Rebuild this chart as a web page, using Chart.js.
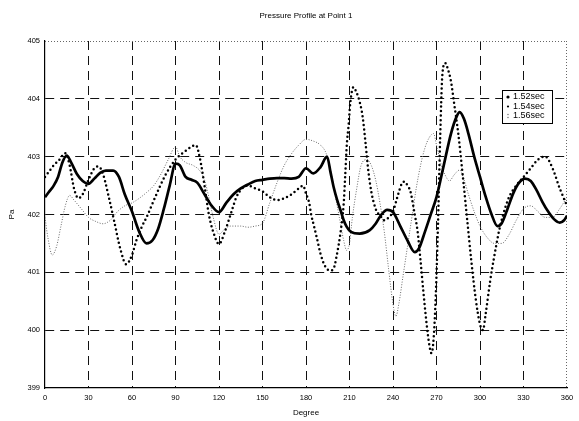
<!DOCTYPE html>
<html>
<head>
<meta charset="utf-8">
<script src="https://cdn.jsdelivr.net/npm/chart.js@4/dist/chart.umd.min.js"></script>
<style>
  html, body { margin: 0; padding: 0; background: #fff; }
  canvas { display: block; }
</style>
</head>
<body>
<canvas id="c" width="579" height="421"></canvas>
<script>
// ---- data ----
const seriesNames = ['1.52sec', '1.54sec', '1.56sec'];
const xTicks = [0, 30, 60, 90, 120, 150, 180, 210, 240, 270, 300, 330, 360];
const yTicks = [399, 400, 401, 402, 403, 404, 405];

const degA = [0,3,6,9,12,15,18,22,26,30,34,38,42,47,51,55,60,65,70,74,78,82,86,90,93,97,101,105,110,115,120,125,130,135,140,145,150,155,160,165,170,175,180,185,190,194.5,197,199,201.5,204,206,208,211,217,224,228,232,236,240,245,250,255,258,262,266,270,275,280,284,286,289,292,296,300,304,308,312,315,319,323,327,331,335,339,343,347,351,355,358,360];
const valA = [402.3,402.4,402.5,402.65,402.9,403.02,402.9,402.7,402.58,402.53,402.62,402.72,402.76,402.76,402.65,402.35,402.05,401.7,401.5,401.55,401.75,402.1,402.5,402.88,402.85,402.65,402.6,402.55,402.35,402.15,402.04,402.2,402.35,402.45,402.52,402.58,402.6,402.62,402.63,402.63,402.62,402.65,402.8,402.71,402.82,403.0,402.72,402.48,402.25,402.06,401.9,401.79,401.7,401.67,401.73,401.84,402.0,402.08,402.04,401.8,401.55,401.35,401.42,401.7,402.0,402.3,402.85,403.4,403.7,403.77,403.65,403.4,403.0,402.65,402.3,402.0,401.8,401.85,402.1,402.37,402.55,402.62,402.58,402.42,402.22,402.05,401.92,401.86,401.9,401.98];

const degB = [0,3,6,10,14,17,20,23,26,30,34,37,40,44,48,52,56,60,63,67,70,76,83,90,97,104,107,110,113,116,120,124,128,132,136,140,145,150,155,160,165,170,175,178,180,182.3,183.4,185.6,187.9,190,193.5,197,199,201.4,203.7,206,207,208.2,209.3,210.5,212.7,215,217,219,221,223,225,228,231,234,237,240,243,246,248,250,252,255,257,259,261,263,265,266.5,268,269.5,271,272.5,274,276,278,280,282,285,288,291,294,297,300,302,304,307,310,313,316,320,325,330,335,340,345,350,355,360];
const valB = [402.65,402.75,402.85,402.95,403.06,402.85,402.45,402.28,402.35,402.6,402.8,402.83,402.7,402.3,401.85,401.4,401.14,401.3,401.55,401.8,401.95,402.3,402.68,402.95,403.1,403.2,402.95,402.5,402.0,401.7,401.49,401.7,402.0,402.3,402.45,402.5,402.45,402.4,402.3,402.25,402.28,402.35,402.45,402.5,402.36,402.19,402.02,401.79,401.55,401.32,401.09,401.03,401.06,401.32,401.67,402.19,402.65,403.23,403.52,403.92,404.2,404.1,403.95,403.7,403.25,402.75,402.4,402.1,401.98,401.9,401.95,402.05,402.3,402.53,402.57,402.5,402.4,402.0,401.7,401.2,400.65,400.15,399.75,399.6,399.85,400.6,401.8,403.3,404.4,404.62,404.5,404.3,403.95,403.4,402.7,401.95,401.2,400.55,400.1,400.0,400.3,400.85,401.3,401.7,402.0,402.3,402.5,402.65,402.8,402.95,403.0,402.8,402.45,402.15];

const degC = [0,2,5,8,11,14,17,20,25,30,35,40,45,50,55,60,65,70,75,80,85,90,93,97,102,107,110,113,116,120,124,128,135,140,145,150,155,160,165,170,175,180,185,190,194,197,200,203,206,208,210,212,215,218,222,225,228,231,234,237,240,242,244,247,250,253,256,259,262,265,268,270,273,276,279,282,286,289,292,296,300,305,310,315,320,325,330,335,340,345,350,355,360];
const valC = [401.95,401.6,401.3,401.45,401.8,402.15,402.33,402.25,402.1,401.95,401.88,401.84,401.9,402.05,402.15,402.2,402.28,402.38,402.5,402.7,402.95,403.17,403.0,402.9,402.85,402.75,402.6,402.3,401.95,401.66,401.75,401.8,401.8,401.78,401.8,401.85,402.2,402.55,402.85,403.05,403.2,403.3,403.27,403.2,403.05,402.75,402.35,401.95,401.55,401.38,401.5,401.95,402.45,402.85,402.95,402.85,402.6,402.2,401.7,401.05,400.45,400.24,400.45,400.95,401.45,401.95,402.45,402.85,403.15,403.33,403.4,403.2,402.88,402.68,402.58,402.68,402.77,402.6,402.35,402.05,401.8,401.6,401.5,401.5,401.65,401.9,402.1,402.15,402.05,401.95,401.95,402.1,402.3];

// ---- chart ----
const FONT = 'Liberation Sans, Arial, Helvetica, sans-serif';
Chart.defaults.font.family = FONT;
Chart.defaults.color = '#000';

const pts = (xs, ys) => xs.map((x, i) => ({ x: x, y: ys[i] }));

const framePlugin = {
  id: 'frame',
  beforeDatasetsDraw(chart) {
    const { ctx, chartArea: a } = chart;
    ctx.save();
    ctx.strokeStyle = '#666';
    ctx.lineWidth = 1;
    ctx.setLineDash([1, 2]);
    ctx.beginPath();
    ctx.moveTo(a.left, a.top + 0.5);
    ctx.lineTo(a.right, a.top + 0.5);
    ctx.moveTo(a.right - 0.5, a.top);
    ctx.lineTo(a.right - 0.5, a.bottom);
    ctx.stroke();
    ctx.restore();
  }
};

const legendPlugin = {
  id: 'boxLegend',
  afterDraw(chart) {
    const ctx = chart.ctx;
    const bx = 502, by = 90, bw = 50, bh = 33;
    ctx.save();
    ctx.setLineDash([]);
    ctx.fillStyle = '#fff';
    ctx.fillRect(bx, by, bw, bh);
    ctx.strokeStyle = '#000';
    ctx.lineWidth = 1;
    ctx.strokeRect(bx + 0.5, by + 0.5, bw, bh);
    const rows = [by + 7, by + 16.5, by + 26];
    ctx.font = '9px ' + FONT;
    ctx.textBaseline = 'middle';
    ctx.textAlign = 'left';
    ctx.fillStyle = '#000';
    ctx.beginPath(); ctx.arc(bx + 6, rows[0], 1.6, 0, Math.PI * 2); ctx.fill();
    ctx.beginPath(); ctx.arc(bx + 6, rows[1], 1.1, 0, Math.PI * 2); ctx.fill();
    ctx.fillStyle = '#666';
    ctx.beginPath(); ctx.arc(bx + 6, rows[2] - 1.5, 0.7, 0, Math.PI * 2); ctx.fill();
    ctx.beginPath(); ctx.arc(bx + 6, rows[2] + 1.5, 0.7, 0, Math.PI * 2); ctx.fill();
    ctx.fillStyle = '#000';
    seriesNames.forEach((n, i) => ctx.fillText(n, bx + 11, rows[i]));
    ctx.restore();
  }
};

new Chart(document.getElementById('c'), {
  type: 'line',
  data: {
    datasets: [
      {
        label: seriesNames[0],
        data: pts(degA, valA),
        borderColor: '#000',
        borderWidth: 2.7,
        pointRadius: 0,
        cubicInterpolationMode: 'monotone',
        fill: false
      },
      {
        label: seriesNames[1],
        data: pts(degB, valB),
        borderColor: '#000',
        borderWidth: 2.5,
        borderDash: [0, 4.5],
        borderCapStyle: 'round',
        pointRadius: 0,
        cubicInterpolationMode: 'monotone',
        fill: false
      },
      {
        label: seriesNames[2],
        data: pts(degC, valC),
        borderColor: '#6a6a6a',
        borderWidth: 1,
        borderDash: [1, 1.6],
        pointRadius: 0,
        cubicInterpolationMode: 'monotone',
        fill: false
      }
    ]
  },
  options: {
    responsive: false,
    animation: false,
    devicePixelRatio: 1,
    layout: { padding: { left: 0, right: 12, top: 0, bottom: 0 } },
    plugins: {
      legend: { display: false },
      tooltip: { enabled: false },
      title: {
        display: true,
        text: 'Pressure Profile at Point 1',
        fullSize: false,
        color: '#000',
        font: { size: 8, weight: 'normal', family: FONT },
        padding: { top: 11, bottom: 20.4 }
      }
    },
    scales: {
      x: {
        type: 'linear',
        min: 0, max: 360,
        afterBuildTicks: s => { s.ticks = xTicks.map(v => ({ value: v })); },
        ticks: { font: { size: 7.5 }, color: '#000', padding: 5, maxRotation: 0, autoSkip: false },
        grid: {
          color: c => (c.tick && (c.tick.value === 0 || c.tick.value === 360)) ? 'rgba(0,0,0,0)' : '#111',
          lineWidth: 1,
          drawTicks: false
        },
        border: { display: true, color: '#000', width: 1.2, dash: [9, 6] },
        title: { display: true, text: 'Degree', font: { size: 8 }, color: '#000', padding: { top: 0, bottom: 3 } },
        afterFit: s => { s.height = 33; }
      },
      y: {
        type: 'linear',
        min: 399, max: 405,
        afterBuildTicks: s => { s.ticks = yTicks.map(v => ({ value: v })); },
        ticks: { font: { size: 7.5 }, color: '#000', padding: 5 },
        grid: {
          color: c => (c.tick && (c.tick.value === 399 || c.tick.value === 405)) ? 'rgba(0,0,0,0)' : '#111',
          lineWidth: 1,
          drawTicks: false
        },
        border: { display: true, color: '#000', width: 1.2, dash: [9, 6] },
        title: { display: true, text: 'Pa', font: { size: 8 }, color: '#000', padding: { top: 7, bottom: 0 } },
        afterFit: s => { s.width = 45; }
      }
    }
  },
  plugins: [framePlugin, legendPlugin]
});
</script>
</body>
</html>
